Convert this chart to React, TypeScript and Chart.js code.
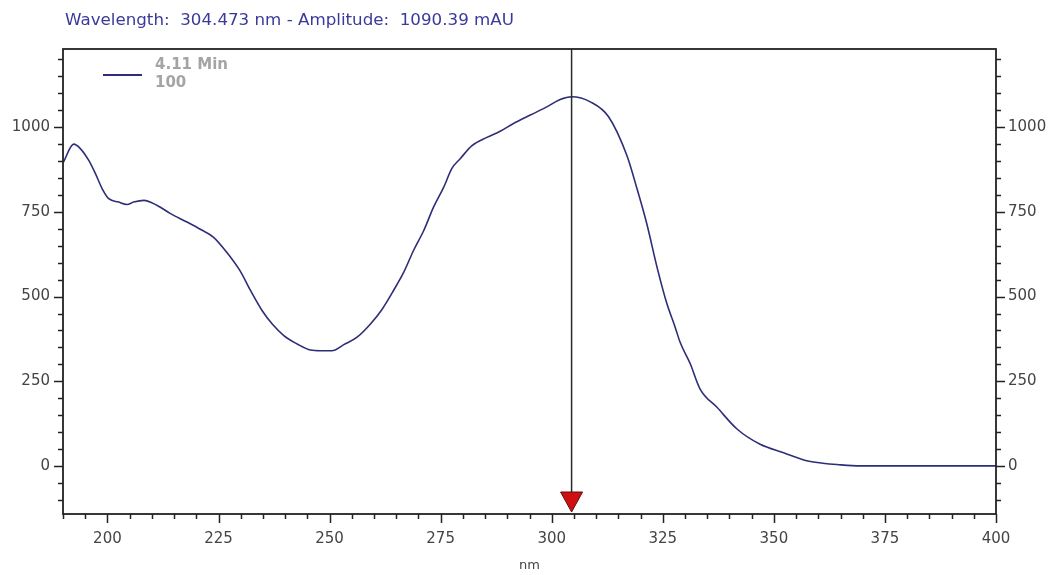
import React, { useEffect, useRef } from 'react';
import { Chart, registerables } from 'chart.js';

Chart.register(...registerables);

// ---- data ----
const wavelengths = [
  190.1, 192.4, 193.9, 195.8, 197.3, 198.8, 200.3, 202.5, 204.4, 205.9,
  208.2, 211.2, 214.2, 217.9, 221.0, 223.9, 226.9, 229.9, 232.2, 234.8,
  237.1, 239.7, 242.7, 245.7, 248.0, 250.5, 253.2, 256.2, 259.2, 261.8,
  264.4, 266.7, 268.9, 271.2, 273.4, 275.7, 277.5, 279.4, 282.0, 285.4,
  288.4, 291.4, 295.2, 298.9, 301.9, 304.5, 308.7, 312.8, 316.9, 319.1,
  321.4, 323.7, 325.9, 327.8, 328.9, 331.2, 333.4, 337.2, 341.7, 346.9,
  352.2, 357.4, 361.0, 364.2, 369.4, 380.0, 390.0, 400.0,
];
const amplitudes = [
  897, 950, 937, 902, 863, 819, 789, 779, 772, 779,
  784, 769, 745, 720, 698, 675, 630, 575, 518, 459,
  419, 385, 360, 342, 340, 340, 358, 380, 419, 462,
  518, 572, 636, 695, 764, 823, 878, 907, 945, 970,
  988, 1011, 1036, 1060, 1082, 1090, 1075, 1031, 917, 823,
  715, 587, 480, 409, 365, 301, 227, 173, 109, 64,
  39, 15, 8, 4, 0, 0, 0, 0,
];
const legendLines = ['4.11 Min', '100'];
const cursorWavelength = 304.473;
const cursorAmplitude = 1090.39;
const xRange = [190, 400];
const yRange = [-142, 1231];
const xMinorStep = 5;
const xMajorStep = 25;
const yMinorStep = 50;
const yMajorStep = 250;
const xAxisTitle = 'nm';
const headerText = `Wavelength:  ${cursorWavelength} nm - Amplitude:  ${cursorAmplitude} mAU`;

const LINE_COLOR = '#2e2e78';
const AXIS_COLOR = '#222222';
const TICK_TEXT = '#444444';
const FONT = '"DejaVu Sans", Verdana, sans-serif';

const decorPlugin = {
  id: 'decor',
  afterDraw(chart: any) {
    const ctx = chart.ctx;
    const { left, right, top, bottom } = chart.chartArea;
    const xs = chart.scales.x;
    const yl = chart.scales.y;
    const yr = chart.scales.y2;
    ctx.save();
    // frame
    ctx.strokeStyle = AXIS_COLOR;
    ctx.lineWidth = 1.8;
    ctx.strokeRect(left, top, right - left, bottom - top);
    // ticks
    ctx.beginPath();
    ctx.lineWidth = 1.5;
    xs.ticks.forEach((t: any) => {
      const p = Math.round(xs.getPixelForValue(t.value)) + 0.5;
      const len = t.value % xMajorStep === 0 ? 9 : 5;
      ctx.moveTo(p, bottom);
      ctx.lineTo(p, bottom + len);
    });
    yl.ticks.forEach((t: any) => {
      const p = Math.round(yl.getPixelForValue(t.value)) + 0.5;
      const len = t.value % yMajorStep === 0 ? 9 : 5;
      ctx.moveTo(left, p);
      ctx.lineTo(left - len, p);
    });
    yr.ticks.forEach((t: any) => {
      const p = Math.round(yr.getPixelForValue(t.value)) + 0.5;
      const len = t.value % yMajorStep === 0 ? 9 : 5;
      ctx.moveTo(right, p);
      ctx.lineTo(right + len, p);
    });
    ctx.stroke();

    // cursor
    const cx = xs.getPixelForValue(cursorWavelength);
    ctx.beginPath();
    ctx.strokeStyle = '#2a2a2a';
    ctx.lineWidth = 1.5;
    ctx.moveTo(cx, top);
    ctx.lineTo(cx, bottom - 20);
    ctx.stroke();
    ctx.beginPath();
    ctx.moveTo(cx - 11, bottom - 22);
    ctx.lineTo(cx + 11, bottom - 22);
    ctx.lineTo(cx, bottom - 2);
    ctx.closePath();
    ctx.fillStyle = '#d01010';
    ctx.fill();
    ctx.strokeStyle = '#5a1010';
    ctx.lineWidth = 1;
    ctx.stroke();

    // header
    ctx.fillStyle = '#3a3a9a';
    ctx.font = `16.7px ${FONT}`;
    ctx.textBaseline = 'middle';
    ctx.textAlign = 'left';
    ctx.fillText(headerText, left + 2, 21);

    // legend
    ctx.beginPath();
    ctx.strokeStyle = LINE_COLOR;
    ctx.lineWidth = 2;
    ctx.moveTo(103, 75);
    ctx.lineTo(142, 75);
    ctx.stroke();
    ctx.fillStyle = '#a4a4a4';
    ctx.font = `bold 15px ${FONT}`;
    ctx.fillText(legendLines[0], 155, 65);
    ctx.fillText(legendLines[1], 155, 83);

    // x-axis title
    ctx.fillStyle = TICK_TEXT;
    ctx.font = `13px ${FONT}`;
    ctx.textAlign = 'center';
    ctx.fillText(xAxisTitle, (left + right) / 2, 566);
    ctx.restore();
  },
};

export default function App() {
  const ref = useRef<HTMLCanvasElement | null>(null);
  useEffect(() => {
    if (!ref.current) return;
    const tickFont = { family: FONT, size: 15 };
    const chart = new Chart(ref.current, {
      type: 'line',
      data: {
        datasets: [
          {
            label: legendLines.join(' '),
            data: wavelengths.map((w, i) => ({ x: w, y: amplitudes[i] })),
            borderColor: LINE_COLOR,
            borderWidth: 1.6,
            pointRadius: 0,
            cubicInterpolationMode: 'monotone',
            fill: false,
            yAxisID: 'y',
          },
        ],
      },
      options: {
        responsive: false,
        animation: false,
        events: [],
        layout: { padding: { top: 49, left: 0, right: 0, bottom: 0 } },
        plugins: { legend: { display: false }, tooltip: { enabled: false }, title: { display: false } },
        scales: {
          x: {
            type: 'linear',
            min: xRange[0],
            max: xRange[1],
            grid: { display: true, drawOnChartArea: false, drawTicks: false },
            border: { display: false },
            ticks: {
              stepSize: xMinorStep,
              includeBounds: false,
              autoSkip: false,
              maxRotation: 0,
              padding: 16,
              color: TICK_TEXT,
              font: tickFont,
              callback: (v: any) => (Number(v) % xMajorStep === 0 ? String(v) : ''),
            },
            afterFit: (s: any) => { s.height = 61; },
          },
          y: {
            type: 'linear',
            position: 'left',
            min: yRange[0],
            max: yRange[1],
            grid: { display: true, drawOnChartArea: false, drawTicks: false },
            border: { display: false },
            ticks: {
              stepSize: yMinorStep,
              includeBounds: false,
              autoSkip: false,
              padding: 13,
              color: TICK_TEXT,
              font: tickFont,
              callback: (v: any) => (Number(v) % yMajorStep === 0 ? String(v) : ''),
            },
            afterFit: (s: any) => { s.width = 63; },
          },
          y2: {
            type: 'linear',
            position: 'right',
            min: yRange[0],
            max: yRange[1],
            grid: { display: true, drawOnChartArea: false, drawTicks: false },
            border: { display: false },
            ticks: {
              stepSize: yMinorStep,
              includeBounds: false,
              autoSkip: false,
              padding: 12,
              color: TICK_TEXT,
              font: tickFont,
              callback: (v: any) => (Number(v) % yMajorStep === 0 ? String(v) : ''),
            },
            afterFit: (s: any) => { s.width = 55; },
          },
        },
      },
      plugins: [decorPlugin],
    } as any);
    return () => chart.destroy();
  }, []);
  return (
    <div style={{ position: 'absolute', left: 0, top: 0, width: 1051, height: 575, background: '#fff' }}>
      <canvas ref={ref} width={1051} height={575} />
    </div>
  );
}
